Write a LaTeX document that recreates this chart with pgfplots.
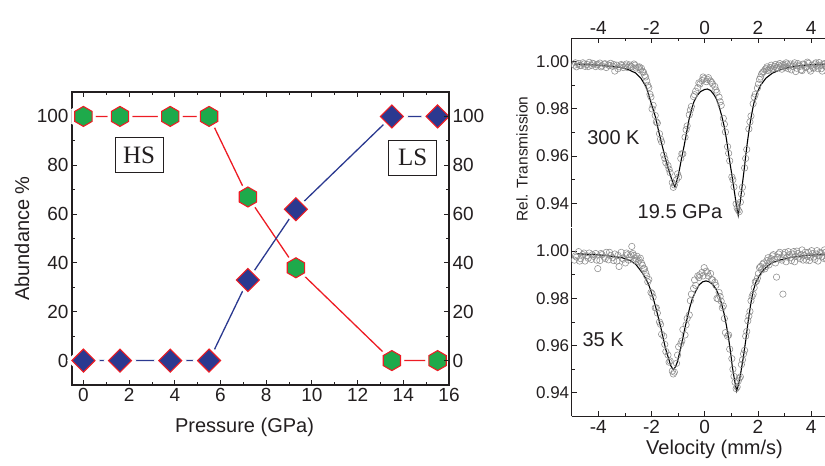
\documentclass[border=0pt]{standalone}
\usepackage{pgfplots}
\pgfplotsset{compat=1.18}
\usepackage{fontspec}
\setmainfont{Liberation Sans}
\newfontfamily\seriffont{Liberation Serif}
\definecolor{hsgreen}{RGB}{30,170,75}
\definecolor{hsred}{RGB}{237,28,36}
\definecolor{lsblue}{RGB}{43,57,144}
\definecolor{txt}{RGB}{35,31,32}
\definecolor{circ}{RGB}{140,140,140}
\pgfdeclareplotmark{hexa}{%
  \pgfpathmoveto{\pgfpointpolar{90}{\pgfplotmarksize}}%
  \pgfpathlineto{\pgfpointpolar{150}{\pgfplotmarksize}}%
  \pgfpathlineto{\pgfpointpolar{210}{\pgfplotmarksize}}%
  \pgfpathlineto{\pgfpointpolar{270}{\pgfplotmarksize}}%
  \pgfpathlineto{\pgfpointpolar{330}{\pgfplotmarksize}}%
  \pgfpathlineto{\pgfpointpolar{30}{\pgfplotmarksize}}%
  \pgfpathclose\pgfusepathqfillstroke}
\pgfdeclareplotmark{rhomb}{%
  \pgfpathmoveto{\pgfqpoint{0pt}{\pgfplotmarksize}}%
  \pgfpathlineto{\pgfqpoint{\pgfplotmarksize}{0pt}}%
  \pgfpathlineto{\pgfqpoint{0pt}{-\pgfplotmarksize}}%
  \pgfpathlineto{\pgfqpoint{-\pgfplotmarksize}{0pt}}%
  \pgfpathclose\pgfusepathqfillstroke}
\pgfplotstableread{
x y
0 100
1.6 100
3.8 100
5.5 100
7.2 67
9.3 38
13.5 0
15.5 0
}\hsdata
\pgfplotstableread{
x y
0 0
1.6 0
3.8 0
5.5 0
7.2 33
9.3 62
13.5 100
15.5 100
}\lsdata
\pgfplotsset{
  spec/.style={anchor=south west, width=266pt, height=189pt, scale only axis,
    xmin=-5, xmax=5, ymin=0.93, ymax=1.01,
    xtick={-4,-2,0,2,4}, minor x tick num=1,
    ytick={0.94,0.96,0.98,1.00}, minor y tick num=1,
    tick align=inside, major tick length=5pt, minor tick length=3pt,
    axis line style={line width=0.9pt, txt}, every tick/.style={line width=0.8pt, txt},
    /pgf/number format/assume math mode=true,
    yticklabel style={/pgf/number format/fixed, /pgf/number format/fixed zerofill, /pgf/number format/precision=2, font=\fontsize{17}{20}\selectfont, text=txt, xshift=1pt},
    xticklabel style={font=\fontsize{19}{22}\selectfont, text=txt},
    axis y line*=left},
  datac/.style={only marks, mark=o, mark size=3.2pt, mark options={draw=circ, line width=0.55pt}},
  fitl/.style={no marks, black, line width=1.1pt},
}
\begin{document}
\begin{tikzpicture}
\useasboundingbox (0,0) rectangle (825pt,466pt);
\clip (0,0) rectangle (825pt,466pt);
% ---------- left panel ----------
\begin{axis}[at={(72pt,81pt)}, anchor=south west, width=377pt, height=293pt, scale only axis,
  xmin=-0.5, xmax=16, ymin=-10, ymax=110,
  xtick={0,2,...,16}, minor x tick num=1,
  ytick={0,20,...,100}, minor y tick num=1,
  tick align=inside, major tick length=5pt, minor tick length=3pt,
  axis line style={line width=1.1pt, txt}, every tick/.style={line width=0.9pt, txt},
  /pgf/number format/assume math mode=true,
  tick label style={font=\fontsize{19}{22}\selectfont, text=txt},
  xlabel={Pressure (GPa)}, ylabel={Abundance \%},
  label style={font=\fontsize{20}{24}\selectfont, text=txt},
  ylabel style={at={(axis description cs:-0.133,0.5)}, anchor=center},
  xlabel style={at={(axis description cs:0.4576,-0.143)}, anchor=center},
  clip=false]
\addplot[hsred, line width=1.3pt, no marks] table {\hsdata};
\addplot[lsblue, line width=1.3pt, no marks] table {\lsdata};
\addplot[only marks, mark=hexa, mark size=14pt, mark options={fill=white, draw=white}] table {\hsdata};
\addplot[only marks, mark=rhomb, mark size=16pt, mark options={fill=white, draw=white}] table {\lsdata};
\addplot[only marks, mark=hexa, mark size=10pt, mark options={fill=hsgreen, draw=hsred, line width=1.1pt}] table {\hsdata};
\addplot[only marks, mark=rhomb, mark size=11.5pt, mark options={fill=lsblue, draw=hsred, line width=1.1pt}] table {\lsdata};
\node[draw=txt, line width=0.8pt, fill=white, minimum width=48pt, minimum height=35pt, inner sep=0pt, font=\seriffont\fontsize{25}{28}\selectfont, text=txt] at (axis cs:2.44,84.1) {HS};
\node[draw=txt, line width=0.8pt, fill=white, minimum width=48pt, minimum height=35pt, inner sep=0pt, font=\seriffont\fontsize{25}{28}\selectfont, text=txt] at (axis cs:14.41,83.1) {LS};
\end{axis}
\begin{axis}[at={(72pt,81pt)}, anchor=south west, width=377pt, height=293pt, scale only axis,
  xmin=-0.5, xmax=16, ymin=-10, ymax=110,
  hide x axis, axis y line*=right,
  ytick={0,20,...,100}, minor y tick num=1,
  tick align=inside, major tick length=5pt, minor tick length=3pt,
  axis line style={line width=1.1pt, txt}, every tick/.style={line width=0.9pt, txt},
  /pgf/number format/assume math mode=true,
  tick label style={font=\fontsize{19}{22}\selectfont, text=txt}]
\addplot[draw=none] coordinates {(0,0)};
\end{axis}
% ---------- top right ----------
\begin{axis}[spec, at={(571.7pt,239pt)}, axis x line*=top]
\addplot[datac] table {
-4.90 0.9985
-4.82 0.9978
-4.74 0.9992
-4.66 0.9983
-4.58 0.9995
-4.50 0.9980
-4.42 0.9988
-4.34 0.9997
-4.26 0.9984
-4.18 0.9991
-4.10 0.9979
-4.02 0.9989
-3.94 0.9994
-3.86 0.9982
-3.78 0.9990
-3.70 0.9975
-3.62 0.9986
-3.54 0.9993
-3.46 0.9980
-3.38 0.9960
-3.30 0.9985
-3.22 0.9978
-3.14 0.9988
-3.06 0.9975
-2.98 0.9982
-2.90 0.9975
-2.82 0.9986
-2.74 0.9978
-2.66 0.9990
-2.58 0.9973
-2.50 0.9976
-2.42 0.9965
-2.34 0.9958
-2.26 0.9942
-2.18 0.9918
-2.10 0.9890
-2.02 0.9850
-1.94 0.9815
-1.86 0.9772
-1.78 0.9740
-1.70 0.9695
-1.62 0.9660
-1.54 0.9605
-1.46 0.9572
-1.38 0.9560
-1.30 0.9530
-1.22 0.9488
-1.14 0.9478
-1.06 0.9500
-0.98 0.9512
-0.90 0.9590
-0.82 0.9610
-0.74 0.9680
-0.66 0.9728
-0.58 0.9775
-0.50 0.9810
-0.42 0.9852
-0.34 0.9875
-0.26 0.9890
-0.18 0.9905
-0.10 0.9920
-0.02 0.9928
0.06 0.9915
0.14 0.9932
0.22 0.9918
0.30 0.9905
0.38 0.9895
0.46 0.9870
0.54 0.9850
0.62 0.9815
0.70 0.9760
0.78 0.9702
0.86 0.9640
0.94 0.9580
1.02 0.9512
1.10 0.9470
1.18 0.9398
1.26 0.9372
1.34 0.9405
1.42 0.9468
1.50 0.9550
1.58 0.9628
1.66 0.9715
1.74 0.9770
1.82 0.9822
1.90 0.9862
1.98 0.9888
2.06 0.9925
2.14 0.9948
2.22 0.9958
2.30 0.9970
2.38 0.9962
2.46 0.9975
2.54 0.9968
2.62 0.9980
2.70 0.9972
2.78 0.9985
2.86 0.9978
2.94 0.9988
3.02 0.9975
3.10 0.9990
3.18 0.9982
3.26 0.9965
3.34 0.9986
3.42 0.9958
3.50 0.9992
3.58 0.9980
3.66 0.9962
3.74 0.9988
3.82 0.9978
3.90 0.9993
3.98 0.9960
4.06 0.9975
4.14 0.9990
4.22 0.9982
4.30 0.9996
4.38 0.9970
4.46 0.9988
4.54 0.9980
4.62 0.9992
};
\addplot[datac] table {
-4.86 0.9995
-4.70 0.9984
-4.54 0.9990
-4.38 0.9979
-4.22 0.9993
-4.06 0.9986
-3.90 0.9978
-3.74 0.9991
-3.58 0.9983
-3.42 0.9988
-3.26 0.9970
-3.10 0.9984
-2.94 0.9990
-2.78 0.9980
-2.62 0.9985
-2.46 0.9978
-2.38 0.9972
-2.30 0.9955
-2.22 0.9935
-2.14 0.9900
-2.06 0.9862
-1.98 0.9800
-1.82 0.9745
-1.66 0.9672
-1.50 0.9590
-1.34 0.9545
-1.18 0.9468
-1.02 0.9525
-0.86 0.9610
-0.70 0.9712
-0.54 0.9795
-0.38 0.9860
-0.22 0.9910
-0.06 0.9935
0.10 0.9925
0.26 0.9912
0.42 0.9880
0.58 0.9830
0.74 0.9735
0.90 0.9612
1.06 0.9500
1.22 0.9380
1.30 0.9365
1.38 0.9440
1.54 0.9590
1.70 0.9745
1.86 0.9850
2.02 0.9905
2.10 0.9935
2.18 0.9955
2.26 0.9965
2.34 0.9978
2.42 0.9968
2.50 0.9985
2.58 0.9972
2.66 0.9988
2.74 0.9975
2.82 0.9992
2.90 0.9968
2.98 0.9983
3.06 0.9995
3.14 0.9970
3.22 0.9990
3.30 0.9980
3.38 0.9995
3.46 0.9972
3.54 0.9985
3.62 0.9965
3.70 0.9990
3.78 0.9975
3.86 0.9998
3.94 0.9968
4.02 0.9985
4.10 0.9972
4.18 0.9995
4.26 0.9970
4.34 0.9985
4.42 0.9960
4.50 0.9992
4.58 0.9975
};
\addplot[fitl] table {
-4.9 0.9990
-4.5 0.9988
-4.0 0.9985
-3.5 0.9980
-3.2 0.9976
-2.9 0.9968
-2.6 0.9952
-2.4 0.9930
-2.2 0.9893
-2.0 0.9820
-1.85 0.9765
-1.72 0.9700
-1.6 0.9645
-1.47 0.9587
-1.35 0.9540
-1.25 0.9505
-1.18 0.9482
-1.12 0.9470
-1.06 0.9490
-0.97 0.9531
-0.88 0.9585
-0.78 0.9640
-0.68 0.9700
-0.59 0.9755
-0.50 0.9795
-0.40 0.9832
-0.28 0.9857
-0.15 0.9874
0.00 0.9882
0.10 0.9884
0.22 0.9878
0.35 0.9860
0.45 0.9840
0.54 0.9811
0.64 0.9770
0.73 0.9727
0.82 0.9670
0.91 0.9600
1.00 0.9535
1.10 0.9462
1.18 0.9400
1.26 0.9350
1.34 0.9410
1.41 0.9476
1.48 0.9540
1.54 0.9600
1.60 0.9655
1.67 0.9713
1.76 0.9775
1.85 0.9825
1.97 0.9868
2.10 0.9900
2.30 0.9930
2.54 0.9951
2.85 0.9966
3.17 0.9976
3.6 0.9983
4.0 0.9987
4.42 0.9989
5.0 0.9991
};
\node[font=\fontsize{20}{24}\selectfont, text=txt] at (axis cs:-3.43,0.9677) {300 K};
\node[font=\fontsize{20}{24}\selectfont, text=txt] at (axis cs:-0.93,0.9363) {19.5 GPa};
\end{axis}
% ---------- bottom right ----------
\begin{axis}[spec, at={(571.7pt,49.5pt)}, axis x line*=bottom,
  xlabel={Velocity (mm/s)}, xlabel style={font=\fontsize{20}{24}\selectfont, text=txt, at={(axis description cs:0.537,-0.172)}, anchor=center}]
\addplot[datac] table {
-4.90 0.9962
-4.82 0.9975
-4.74 0.9998
-4.66 0.9968
-4.58 0.9985
-4.50 0.9958
-4.42 0.9980
-4.34 0.9992
-4.26 0.9965
-4.18 0.9978
-4.10 0.9990
-4.02 0.9926
-3.94 0.9960
-3.86 0.9985
-3.78 0.9975
-3.70 0.9995
-3.62 0.9963
-3.54 0.9982
-3.46 0.9972
-3.38 0.9988
-3.30 0.9958
-3.22 0.9935
-3.14 0.9995
-3.06 0.9966
-2.98 0.9950
-2.90 0.9985
-2.82 0.9975
-2.74 1.0020
-2.66 0.9982
-2.58 0.9968
-2.50 0.9955
-2.42 0.9970
-2.34 0.9940
-2.26 0.9925
-2.18 0.9895
-2.10 0.9880
-2.02 0.9825
-1.94 0.9805
-1.86 0.9760
-1.78 0.9738
-1.70 0.9700
-1.62 0.9648
-1.54 0.9640
-1.46 0.9575
-1.38 0.9560
-1.30 0.9535
-1.22 0.9492
-1.14 0.9488
-1.06 0.9525
-0.98 0.9595
-0.90 0.9608
-0.82 0.9668
-0.74 0.9645
-0.66 0.9715
-0.58 0.9730
-0.50 0.9818
-0.42 0.9842
-0.34 0.9855
-0.26 0.9895
-0.18 0.9900
-0.10 0.9910
-0.02 0.9930
0.06 0.9915
0.14 0.9895
0.22 0.9905
0.30 0.9878
0.38 0.9868
0.46 0.9800
0.54 0.9825
0.62 0.9788
0.70 0.9768
0.78 0.9655
0.86 0.9640
0.94 0.9585
1.02 0.9545
1.10 0.9470
1.18 0.9418
1.26 0.9450
1.34 0.9468
1.42 0.9540
1.50 0.9580
1.58 0.9660
1.66 0.9725
1.74 0.9790
1.82 0.9818
1.90 0.9870
1.98 0.9885
2.06 0.9930
2.14 0.9920
2.22 0.9950
2.30 0.9935
2.38 0.9972
2.46 0.9958
2.54 0.9980
2.62 0.9965
2.70 0.9890
2.78 0.9988
2.86 0.9970
2.94 0.9818
3.02 0.9995
3.10 0.9975
3.18 0.9985
3.26 0.9960
3.34 0.9998
3.42 0.9978
3.50 0.9990
3.58 0.9968
3.66 1.0005
3.74 0.9982
3.82 0.9962
3.90 0.9995
3.98 0.9975
4.06 0.9990
4.14 0.9965
4.22 1.0002
4.30 0.9980
4.38 0.9992
4.46 0.9970
4.54 0.9995
4.62 0.9978
};
\addplot[datac] table {
-4.86 0.9980
-4.70 0.9958
-4.54 0.9992
-4.38 0.9970
-4.22 0.9985
-4.06 0.9962
-3.90 0.9990
-3.74 0.9968
-3.58 0.9995
-3.42 0.9960
-3.26 0.9982
-3.10 0.9970
-2.94 0.9992
-2.86 0.9962
-2.78 0.9985
-2.70 0.9990
-2.62 0.9960
-2.54 0.9978
-2.46 0.9962
-2.38 0.9950
-2.30 0.9925
-2.22 0.9908
-2.14 0.9870
-1.98 0.9820
-1.82 0.9760
-1.66 0.9690
-1.50 0.9605
-1.34 0.9530
-1.18 0.9480
-1.02 0.9560
-0.86 0.9620
-0.70 0.9688
-0.54 0.9790
-0.38 0.9878
-0.22 0.9888
-0.06 0.9895
0.10 0.9908
0.26 0.9880
0.42 0.9855
0.50 0.9798
0.58 0.9808
0.66 0.9760
0.74 0.9715
0.90 0.9645
1.06 0.9500
1.14 0.9445
1.22 0.9425
1.30 0.9462
1.38 0.9520
1.46 0.9565
1.54 0.9640
1.62 0.9705
1.70 0.9745
1.78 0.9808
1.86 0.9845
1.94 0.9872
2.02 0.9905
2.10 0.9935
2.18 0.9945
2.26 0.9925
2.34 0.9960
2.42 0.9942
2.50 0.9968
2.58 0.9985
2.66 0.9950
2.74 0.9975
2.82 0.9995
2.90 0.9962
2.98 0.9985
3.06 0.9955
3.14 0.9998
3.22 0.9972
3.30 0.9988
3.38 0.9955
3.46 1.0000
3.54 0.9975
3.62 0.9985
3.70 0.9962
3.78 0.9995
3.86 0.9978
3.94 0.9960
4.02 1.0002
4.10 0.9975
4.18 0.9988
4.26 0.9958
4.34 0.9995
4.42 0.9978
4.50 1.0005
4.58 0.9965
};
\addplot[fitl] table {
-4.8 0.9989
-4.3 0.9986
-3.85 0.9983
-3.4 0.9977
-3.1 0.9972
-2.8 0.9960
-2.59 0.9944
-2.35 0.9909
-2.2 0.9880
-2.09 0.9853
-1.96 0.9810
-1.84 0.9762
-1.65 0.9677
-1.47 0.9586
-1.37 0.9550
-1.28 0.9516
-1.18 0.9498
-1.10 0.9510
-1.03 0.9530
-0.94 0.9572
-0.84 0.9621
-0.75 0.9672
-0.65 0.9720
-0.56 0.9762
-0.47 0.9797
-0.34 0.9830
-0.21 0.9857
-0.08 0.9870
0.05 0.9874
0.17 0.9870
0.29 0.9860
0.42 0.9840
0.54 0.9811
0.64 0.9775
0.73 0.9734
0.82 0.9683
0.91 0.9621
0.98 0.9565
1.04 0.9509
1.12 0.9455
1.20 0.9408
1.28 0.9440
1.35 0.9481
1.45 0.9550
1.54 0.9621
1.63 0.9700
1.73 0.9776
1.82 0.9830
1.92 0.9867
2.05 0.9895
2.17 0.9916
2.35 0.9936
2.54 0.9951
2.85 0.9963
3.17 0.9972
3.6 0.9979
4.0 0.9983
4.42 0.9986
5.0 0.9988
};
\node[font=\fontsize{20}{24}\selectfont, text=txt] at (axis cs:-3.82,0.9624) {35 K};
\end{axis}
\node[rotate=90, font=\fontsize{15.5}{18}\selectfont, text=txt] at (522pt,307pt) {Rel. Transmission};
\end{tikzpicture}
\end{document}
